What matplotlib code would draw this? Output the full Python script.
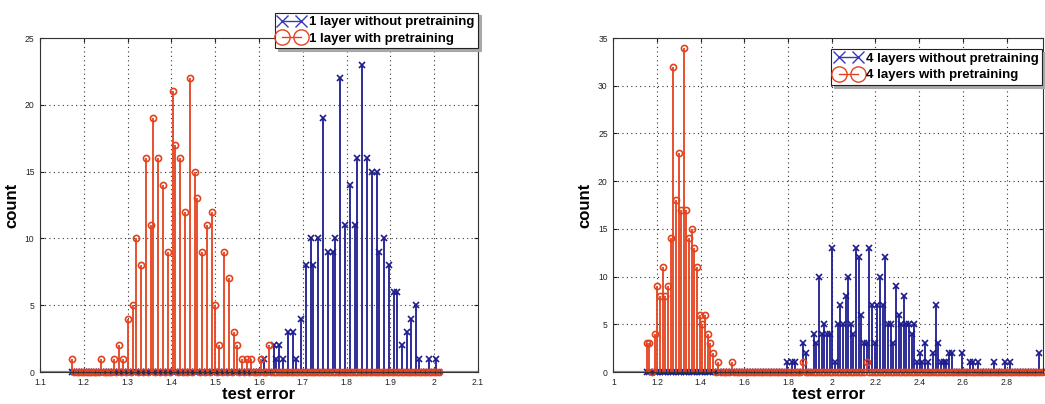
import matplotlib
matplotlib.use('Agg')
import matplotlib.pyplot as plt
from matplotlib.lines import Line2D
import numpy as np

plt.rcParams['font.family'] = ['Liberation Sans', 'DejaVu Sans']

# histogram bins: 150 bins, centre of first and last bin per panel
n_bins = 150
left_first, left_last = 1.1724, 2.0100
right_first, right_last = 1.1530, 2.9606

# counts per bin index (bins that are not listed are empty)
left_without = {78: 1, 82: 2, 83: 1, 84: 2, 86: 1, 88: 3, 90: 3, 91: 1, 93: 4,
                95: 8, 97: 10, 98: 8, 100: 10, 102: 19, 104: 9, 106: 9, 107: 10,
                109: 22, 111: 11, 113: 14, 115: 11, 116: 16, 118: 23, 120: 16,
                122: 15, 124: 15, 125: 9, 127: 10, 129: 8, 131: 6, 132: 6,
                134: 2, 136: 3, 138: 4, 140: 5, 141: 1, 145: 1, 148: 1}
left_with = {0: 1, 12: 1, 17: 1, 19: 2, 21: 1, 23: 4, 25: 5, 26: 10, 28: 8,
             30: 16, 32: 11, 33: 19, 35: 16, 37: 14, 39: 9, 41: 21, 42: 17,
             44: 16, 46: 12, 48: 22, 50: 15, 51: 13, 53: 9, 55: 11, 57: 12,
             58: 5, 60: 2, 62: 9, 64: 7, 66: 3, 67: 2, 69: 1, 71: 1, 73: 1,
             77: 1, 80: 2}

right_without = {53: 1, 55: 1, 56: 1, 59: 3, 60: 2, 63: 4, 64: 3, 65: 10, 66: 4,
                 67: 5, 68: 4, 69: 4, 70: 13, 71: 1, 72: 5, 73: 7, 74: 5, 75: 8,
                 76: 10, 77: 5, 78: 4, 79: 13, 80: 12, 81: 6, 82: 3, 83: 3,
                 84: 13, 85: 7, 86: 3, 87: 7, 88: 10, 89: 7, 90: 12, 91: 5,
                 92: 5, 93: 3, 94: 9, 95: 6, 96: 5, 97: 8, 98: 5, 99: 5, 100: 4,
                 101: 5, 102: 1, 103: 2, 104: 1, 105: 3, 106: 1, 108: 2, 109: 7,
                 110: 3, 111: 1, 112: 1, 113: 1, 114: 2, 115: 2, 119: 2, 122: 1,
                 123: 1, 125: 1, 131: 1, 135: 1, 137: 1, 148: 2}
right_with = {0: 3, 1: 3, 3: 4, 4: 9, 5: 8, 6: 11, 7: 8, 8: 9, 9: 14, 10: 32,
              11: 18, 12: 23, 13: 17, 14: 34, 15: 17, 16: 14, 17: 15, 18: 13,
              19: 11, 20: 6, 21: 5, 22: 6, 23: 4, 24: 3, 25: 2, 27: 1, 32: 1,
              59: 1, 83: 1}

left_labels = ['1 layer without pretraining', '1 layer with pretraining']
right_labels = ['4 layers without pretraining', '4 layers with pretraining']

left_xticks = [1.1, 1.2, 1.3, 1.4, 1.5, 1.6, 1.7, 1.8, 1.9, 2.0, 2.1]
left_xticklabels = ['1.1', '1.2', '1.3', '1.4', '1.5', '1.6', '1.7', '1.8', '1.9', '2', '2.1']
left_yticks = [0, 5, 10, 15, 20, 25]
right_xticks = [1.0, 1.2, 1.4, 1.6, 1.8, 2.0, 2.2, 2.4, 2.6, 2.8]
right_xticklabels = ['1', '1.2', '1.4', '1.6', '1.8', '2', '2.2', '2.4', '2.6', '2.8']
right_yticks = [0, 5, 10, 15, 20, 25, 30, 35]

BLUE = '#1c1c90'
RED = '#e4421e'


def to_counts(d):
    c = np.zeros(n_bins)
    for i, v in d.items():
        c[i] = v
    return c


def draw_stem(ax, x, counts, color, marker):
    markerline, stemlines, baseline = ax.stem(x, counts, basefmt=' ')
    stemlines.set_color(color)
    stemlines.set_linewidth(1.3)
    markerline.set_color(color)
    markerline.set_marker(marker)
    markerline.set_markersize(4.4)
    markerline.set_markeredgewidth(1.2)
    if marker == 'o':
        markerline.set_markerfacecolor('none')
    markerline.set_clip_on(False)


def draw_panel(ax, first, last, without, with_, labels, xlim, ylim,
               xticks, xticklabels, yticks, anchor):
    x = np.linspace(first, last, n_bins)
    ax.axhline(0, color='#8a8a8a', lw=1.6, zorder=1.5)
    draw_stem(ax, x, to_counts(without), BLUE, 'x')
    draw_stem(ax, x, to_counts(with_), RED, 'o')

    ax.set_xlim(*xlim)
    ax.set_ylim(*ylim)
    ax.set_xticks(xticks)
    ax.set_xticklabels(xticklabels)
    ax.set_yticks(yticks)
    ax.set_axisbelow(True)
    ax.grid(True, linestyle=(0, (1, 3)), color='#333333', linewidth=0.8)
    ax.tick_params(direction='in', top=True, right=True, length=3,
                   labelsize=6.2, colors='#222222', pad=4)
    ax.tick_params(axis='x', pad=4)
    for s in ax.spines.values():
        s.set_color('#333333')
        s.set_linewidth(0.8)

    ax.set_xlabel('test error', fontsize=12, fontweight='bold', labelpad=0)
    ax.set_ylabel('count', fontsize=12, fontweight='bold', labelpad=4)

    handles = [Line2D([], [], color='#3a3ab8', marker='x', markersize=9, lw=1.0,
                      markeredgewidth=1.0),
               Line2D([], [], color=RED, marker='o', markersize=11, lw=1.0,
                      markerfacecolor='none', markeredgewidth=1.0)]
    leg = ax.legend(handles, labels, loc='upper right', bbox_to_anchor=anchor,
                    numpoints=2, handlelength=2.05, handletextpad=0.3,
                    borderpad=0.25, labelspacing=0.35, borderaxespad=0,
                    fancybox=False, framealpha=1, edgecolor='#222222',
                    prop={'size': 9.5, 'weight': 'bold'},
                    shadow={'facecolor': '#a8a8a8', 'edgecolor': '#a8a8a8', 'alpha': 1})
    leg.get_frame().set_linewidth(0.8)


fig = plt.figure(figsize=(10.45, 4.04), dpi=100)
ax1 = fig.add_axes([0.0383, 0.0792, 0.4191, 0.8267])
ax2 = fig.add_axes([0.5869, 0.0792, 0.4112, 0.8267])

draw_panel(ax1, left_first, left_last, left_without, left_with, left_labels,
           (1.1, 2.1), (0, 25), left_xticks, left_xticklabels, left_yticks,
           (1.0, 1.076))
draw_panel(ax2, right_first, right_last, right_without, right_with, right_labels,
           (1.0, 2.967), (0, 35), right_xticks, right_xticklabels, right_yticks,
           (0.997, 0.967))

fig.savefig('out.png', dpi=100)
